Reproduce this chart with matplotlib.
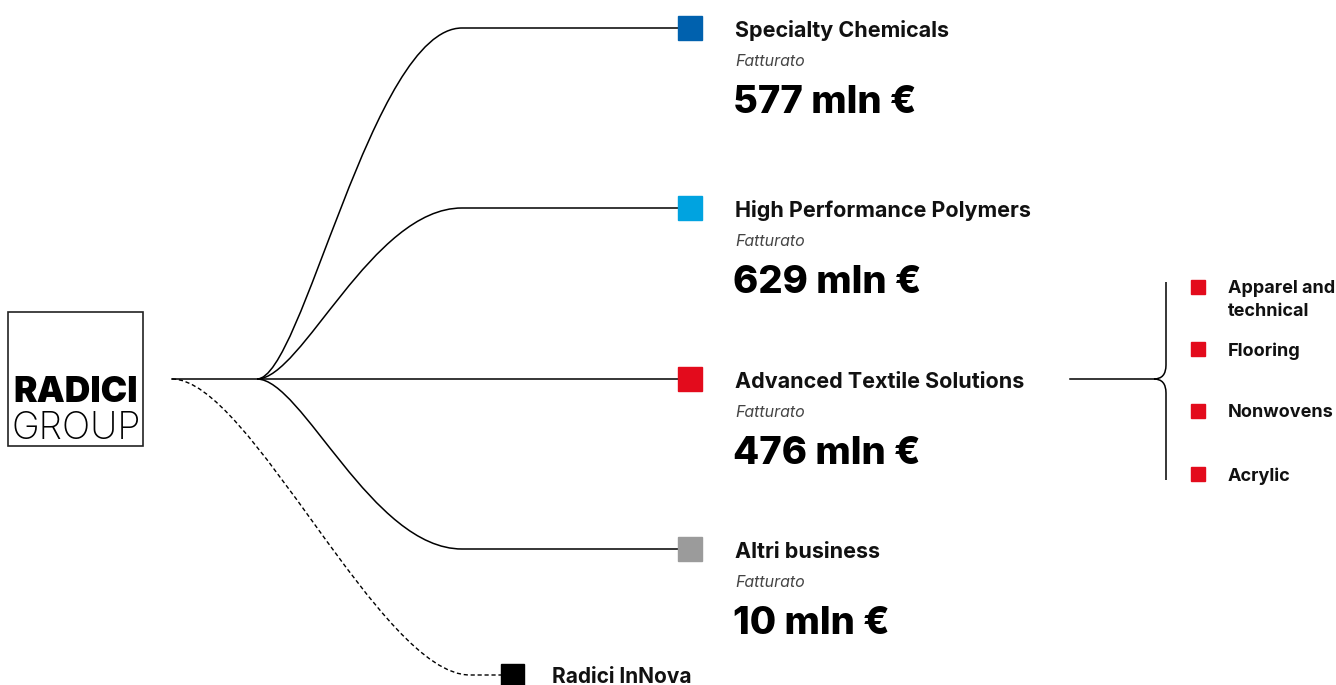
import matplotlib.pyplot as plt
from matplotlib.path import Path
from matplotlib.patches import PathPatch, Rectangle

plt.rcParams['font.family'] = ['Inter', 'DejaVu Sans']

# Divisions and revenues (mln EUR)
divisions = ['Specialty Chemicals', 'High Performance Polymers',
             'Advanced Textile Solutions', 'Altri business']
revenues = [577, 629, 476, 10]
div_colors = ['#0061ae', '#00a3e0', '#e30b1c', '#9b9b9b']
sub_segments = ['Apparel and\ntechnical', 'Flooring', 'Nonwovens', 'Acrylic']
extra_unit = 'Radici InNova'

fig = plt.figure(figsize=(13.36, 6.85), dpi=100)
ax = fig.add_axes([0, 0, 1, 1])
ax.set_xlim(0, 1336)
ax.set_ylim(685, 0)
ax.axis('off')

# Logo
ax.add_patch(Rectangle((8, 312), 135, 134, fill=False, ec='#222222', lw=1.2))
ax.text(76, 402, 'RADICI', ha='center', va='baseline', fontsize=25.5,
        fontweight='black', color='black')
ax.text(76, 439, 'GROUP', ha='center', va='baseline', fontsize=27,
        fontweight='light', color='black')

# Tree layout
root_x, fork_x, bend_x, sq_x, sq = 172, 257, 462, 678, 24
root_y = 379
row_y = [28, 208, 379, 549]

ax.plot([root_x, fork_x], [root_y, root_y], color='black', lw=1.1)
for name, rev, col, y in zip(divisions, revenues, div_colors, row_y):
    verts = [(fork_x, root_y), (fork_x + 45, root_y), (bend_x - 90, y),
             (bend_x, y), (sq_x, y)]
    codes = [Path.MOVETO, Path.CURVE4, Path.CURVE4, Path.CURVE4, Path.LINETO]
    ax.add_patch(PathPatch(Path(verts, codes), fill=False, lw=1.1,
                           ec='black'))
    ax.add_patch(Rectangle((sq_x, y - sq / 2), sq, sq, color=col, zorder=3))
    ax.text(735, y + 9, name, fontsize=15.5, fontweight='bold',
            va='baseline', color='#111111')
    ax.text(735, y + 38, 'Fatturato', fontsize=11.5, style='italic',
            va='baseline', color='#444444')
    ax.text(733, y + 85, f'{rev} mln €', fontsize=27.5, fontweight='heavy',
            va='baseline', color='black')

# Dashed branch to Radici InNova
inn_y = 675
verts = [(root_x, root_y), (250, root_y), (380, inn_y), (470, inn_y),
         (501, inn_y)]
codes = [Path.MOVETO, Path.CURVE4, Path.CURVE4, Path.CURVE4, Path.LINETO]
ax.add_patch(PathPatch(Path(verts, codes), fill=False, lw=1.0, ec='black',
                       ls=(0, (3, 2))))
ax.add_patch(Rectangle((501, inn_y - 11), 23, 23, color='black', zorder=3))
ax.text(552, inn_y + 8, extra_unit, fontsize=15, fontweight='bold',
        va='baseline', color='#111111')

# Brace for textile sub-segments
bx = 1166
ax.plot([1070, bx - 12], [root_y, root_y], color='black', lw=1.1)
brace = [(bx, 282), (bx, root_y - 14), (bx, root_y), (bx - 12, root_y),
         (bx, root_y), (bx, root_y + 14), (bx, 480)]
bcodes = [Path.MOVETO, Path.LINETO, Path.CURVE3, Path.CURVE3,
          Path.CURVE3, Path.CURVE3, Path.LINETO]
ax.add_patch(PathPatch(Path(brace, bcodes), fill=False, lw=1.1, ec='black'))

sub_y = [287, 349, 411, 474]
for label, y in zip(sub_segments, sub_y):
    ax.add_patch(Rectangle((1191, y - 7), 14, 14, color='#e30b1c', zorder=3))
    ax.text(1228, y - 7, label, fontsize=13, fontweight='bold', va='top',
            linespacing=1.45, color='#111111')

fig.savefig('out.png', dpi=100)
